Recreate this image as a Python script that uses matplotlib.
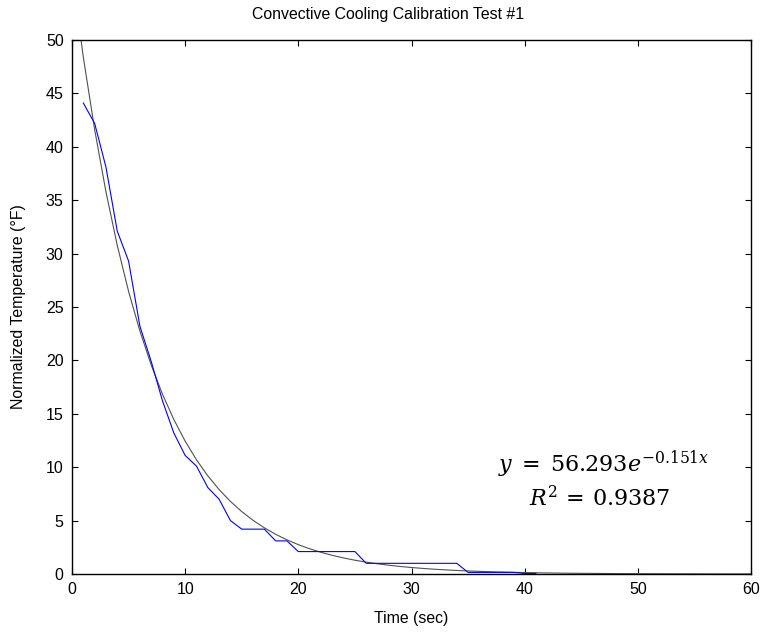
import numpy as np
import matplotlib
matplotlib.use("Agg")
import matplotlib.pyplot as plt

# Measured normalized temperature over time
time_s = [1, 2, 3, 4, 5, 6, 7, 8, 9, 10,
          11, 12, 13, 14, 15, 16, 17, 18, 19, 20,
          21, 22, 23, 24, 25, 26, 27, 28, 29, 30,
          31, 32, 33, 34, 35, 36, 37, 38, 39, 40, 41]
temp_f = [44.1, 42.2, 38.1, 32.1, 29.3, 23.2, 19.9, 16.2, 13.2, 11.1,
          10.1, 8.1, 7.0, 5.0, 4.2, 4.2, 4.2, 3.1, 3.1, 2.1,
          2.1, 2.1, 2.1, 2.1, 2.1, 1.0, 1.0, 1.0, 1.0, 1.0,
          1.0, 1.0, 1.0, 1.0, 0.15, 0.15, 0.15, 0.15, 0.15, 0.05, 0.05]

# Exponential fit coefficients
fit_a = 56.293
fit_b = -0.151
fit_r2 = 0.9387

x_ticks = [0, 10, 20, 30, 40, 50, 60]
y_ticks = [0, 5, 10, 15, 20, 25, 30, 35, 40, 45, 50]

plt.rcParams['font.family'] = ['Liberation Sans', 'DejaVu Sans']
plt.rcParams['mathtext.fontset'] = 'dejavuserif'

W, H = 765, 635
fig = plt.figure(figsize=(W / 100, H / 100), dpi=100)
ax = fig.add_axes([72 / W, 61 / H, 679 / W, 534 / H])

fit_x = np.arange(0, 61)
fit_y = fit_a * np.exp(fit_b * fit_x)
ax.plot(fit_x, fit_y, color='#505050', lw=0.8)
ax.plot(time_s, temp_f, color='#0000ff', lw=0.8)

ax.set_xlim(0, 60)
ax.set_ylim(0, 50)
ax.set_xticks(x_ticks)
ax.set_yticks(y_ticks)
ax.tick_params(direction='in', length=4, width=0.8, top=True, right=True,
               labelsize=11.5, pad=6)
for s in ax.spines.values():
    s.set_linewidth(1.0)

fig.text(388 / W, 1 - 14 / H, 'Convective Cooling Calibration Test #1',
         fontsize=11.4, ha='center', va='center')
ax.set_xlabel('Time (sec)', fontsize=11.4, labelpad=10)
ax.set_ylabel('Normalized Temperature (\u00b0F)', fontsize=11.4, labelpad=14)

eq = r'$y\;=\;%.3fe^{%.3fx}$' % (fit_a, fit_b)
ax.text(47.0, 10.3, eq, fontsize=16, ha='center', va='center')
ax.text(46.6, 7.1, r'$R^2\,=\,%.4f$' % fit_r2, fontsize=16, ha='center', va='center')

fig.savefig('out.png', dpi=100)
